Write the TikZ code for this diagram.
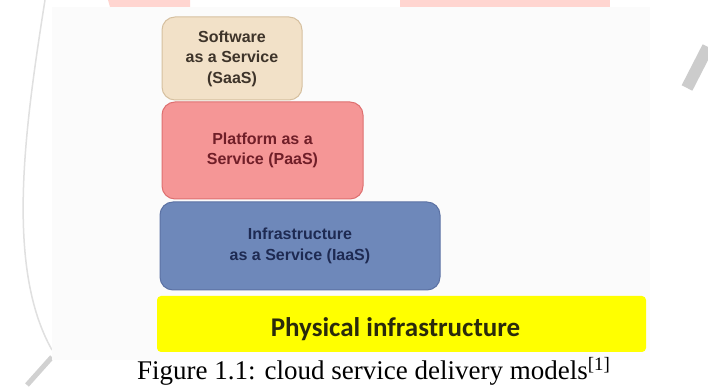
\documentclass[tikz,border=0pt]{standalone}
\usepackage{fontspec}
\setmainfont{Liberation Serif}
\newfontfamily\boxfont{Liberation Sans}
\newfontfamily\calfont{Carlito}
\usepackage{tikz}

\definecolor{saasfill}{RGB}{242,225,200}
\definecolor{saasline}{RGB}{214,192,160}
\definecolor{saastext}{RGB}{62,52,42}
\definecolor{paasfill}{RGB}{245,150,150}
\definecolor{paasline}{RGB}{222,112,112}
\definecolor{paastext}{RGB}{112,30,40}
\definecolor{iaasfill}{RGB}{110,136,186}
\definecolor{iaasline}{RGB}{92,114,164}
\definecolor{iaastext}{RGB}{30,42,82}
\definecolor{physfill}{RGB}{255,255,0}
\definecolor{phystext}{RGB}{42,42,12}
\definecolor{markpink}{RGB}{255,213,208}

\begin{document}
\begin{tikzpicture}[x=1pt, y=1pt,
    layer/.style={draw, rounded corners=13pt, line width=1pt, inner sep=0pt,
        align=center, font={\boxfont\bfseries\fontsize{16}{20.5}\selectfont}}]
    % frame of the picture
    \useasboundingbox (0,0) rectangle (708,387);
    \fill[white] (0,0) rectangle (708,387);

    % watermark bits behind the figure
    \fill[markpink] (110,380) -- (108,387) -- (190,387) -- (190,380) -- cycle;
    \fill[markpink] (400,380) rectangle (610,387);
    \draw[black!12, line width=1.5pt] (45,387) .. controls (25,260) and (5,120) .. (52,37);
    \draw[black!18, line width=5pt] (27,2) -- (52,30);
    \draw[black!20, line width=12pt] (687,299) -- (708,340);
    \fill[black!1.5] (52,27) rectangle (650,380);

    % service layers
    \node[layer, fill=saasfill, draw=saasline, text=saastext,
        minimum width=140pt, minimum height=83pt] (saas) at (232,328.5)
        {Software\\as a Service\\(SaaS)};
    \node[layer, fill=paasfill, draw=paasline, text=paastext,
        minimum width=201pt, minimum height=97pt] (paas) at (262.5,236.5)
        {Platform as a\\Service (PaaS)};
    \node[layer, fill=iaasfill, draw=iaasline, text=iaastext,
        minimum width=280pt, minimum height=88pt] (iaas) at (300,141)
        {Infrastructure\\as a Service (IaaS)};

    % physical layer
    \node[fill=physfill, rounded corners=4pt, inner sep=0pt,
        minimum width=489pt, minimum height=56pt] (phys) at (401.5,63) {};
    \node[text=phystext, font={\calfont\bfseries\fontsize{27}{32}\selectfont}]
        (physlabel) at ([xshift=-6pt, yshift=-5pt]phys.center) {Physical infrastructure};

    % caption
    \node[anchor=base west, inner sep=0pt, font={\fontsize{27}{32}\selectfont}]
        (caption) at (137,7) {Figure 1.1: cloud service delivery models\textsuperscript{[1]}};
\end{tikzpicture}
\end{document}
